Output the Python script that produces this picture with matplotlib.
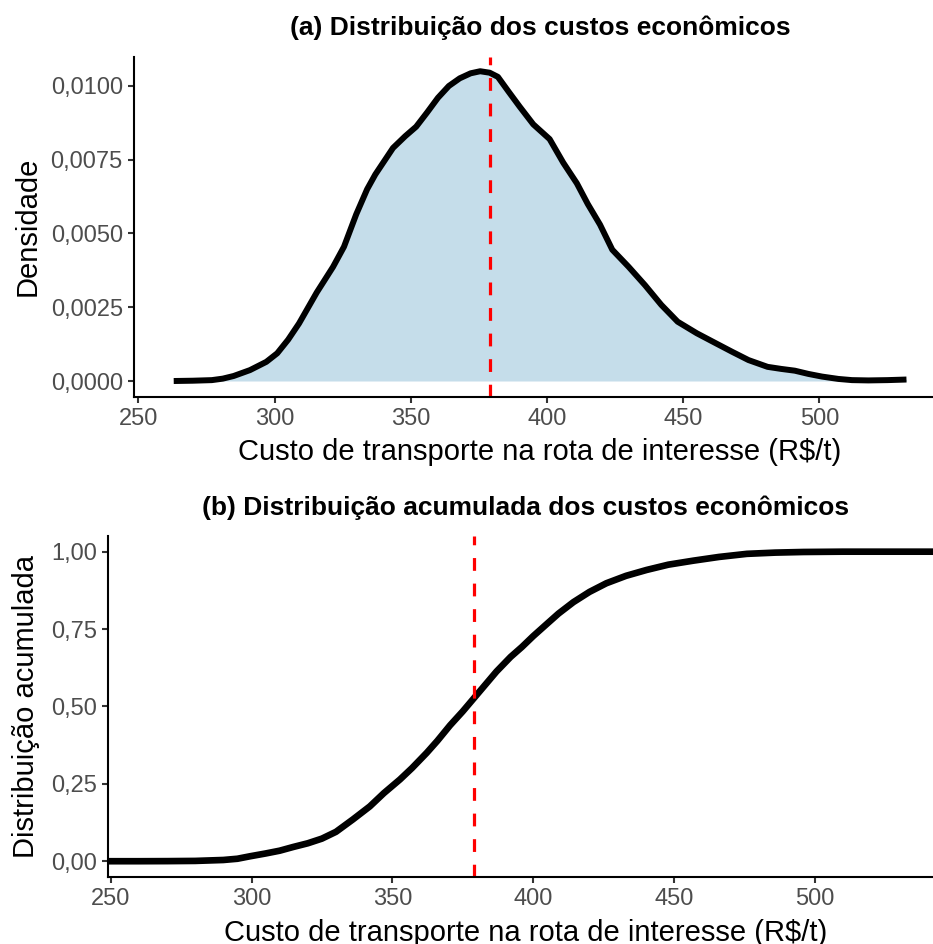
import matplotlib
matplotlib.use("Agg")
import matplotlib.pyplot as plt

plt.rcParams["font.family"] = ["Liberation Sans", "DejaVu Sans"]

# valores
dens_x = [263, 270, 277, 281, 285, 291, 297, 301, 305, 309, 315.5, 321.5, 325.5,
          330, 334, 337, 343.5, 348, 352, 356, 360, 364, 368, 372, 375.5, 379,
          382, 386, 390, 395, 401, 406, 411, 415, 419.5, 424, 430, 436, 442,
          448, 455, 462, 468, 474, 481, 486, 491, 496, 501, 507, 512, 518, 525, 532]
dens_y = [0.0, 0.00001, 0.00003, 0.00008, 0.00017, 0.00037, 0.00065, 0.00094,
          0.00140, 0.00195, 0.00300, 0.00387, 0.00455, 0.00565, 0.00650, 0.00700,
          0.00790, 0.00830, 0.00862, 0.00910, 0.00960, 0.01000, 0.01026, 0.01043,
          0.01050, 0.01045, 0.01031, 0.00980, 0.00930, 0.00870, 0.00820, 0.00740,
          0.00670, 0.00600, 0.00530, 0.00445, 0.00387, 0.00325, 0.00258, 0.00201,
          0.00162, 0.00128, 0.00099, 0.00071, 0.00048, 0.00041, 0.00035, 0.00024,
          0.00015, 0.00007, 0.00003, 0.00002, 0.00003, 0.00005]

ecdf_x = [249.2, 260, 270, 280, 290, 295, 299.5, 305, 310, 314.8, 320, 325, 330,
          336, 342, 347, 352.7, 357, 362.2, 366, 370.5, 375, 379, 383, 387, 392,
          396, 400, 404.8, 409, 414.3, 420, 426, 433, 440.3, 448, 456.9, 466,
          475.9, 486, 496, 510, 525, 545]
ecdf_y = [0.0, 0.0, 0.0003, 0.001, 0.004, 0.008, 0.016, 0.025, 0.034, 0.046, 0.058,
          0.073, 0.095, 0.135, 0.177, 0.220, 0.264, 0.301, 0.350, 0.389, 0.439,
          0.484, 0.527, 0.570, 0.613, 0.660, 0.692, 0.727, 0.766, 0.800, 0.837,
          0.870, 0.898, 0.922, 0.941, 0.958, 0.971, 0.983, 0.993, 0.997, 0.999,
          1.0, 1.0, 1.0]

custo_ref = 379  # linha vermelha tracejada

x_ticks = [250, 300, 350, 400, 450, 500]
dens_ticks = [0.0, 0.0025, 0.005, 0.0075, 0.01]
dens_labels = ["0,0000", "0,0025", "0,0050", "0,0075", "0,0100"]
ecdf_ticks = [0.0, 0.25, 0.5, 0.75, 1.0]
ecdf_labels = ["0,00", "0,25", "0,50", "0,75", "1,00"]

xlab = "Custo de transporte na rota de interesse (R$/t)"
FILL = "#C5DDEA"
TXT = "#4D4D4D"

W, H = 933, 944
fig = plt.figure(figsize=(W / 100, H / 100), dpi=100)


def estilo(ax):
    for s in ["top", "right"]:
        ax.spines[s].set_visible(False)
    for s in ["left", "bottom"]:
        ax.spines[s].set_linewidth(1.5)
        ax.spines[s].set_color("black")
    ax.tick_params(length=4.3, width=1.5, color="#333333", labelcolor=TXT,
                   labelsize=17, pad=4)
    ax.set_xticks(x_ticks)


# (a) densidade
ax1 = fig.add_axes([134.3 / W, 1 - 396.7 / H, (945.7 - 134.3) / W, 340 / H])
ax1.fill_between(dens_x, dens_y, 0, color=FILL, lw=0)
ax1.plot(dens_x, dens_y, color="black", lw=4.3, solid_capstyle="butt",
         solid_joinstyle="round")
ax1.axvline(custo_ref, color="red", lw=2.3, ls=(0, (4, 4)))
ax1.set_xlim(248.53, 546.4)
ax1.set_ylim(-0.000532, 0.010993)
estilo(ax1)
ax1.set_yticks(dens_ticks)
ax1.set_yticklabels(dens_labels)

# (b) acumulada
ax2 = fig.add_axes([108.3 / W, 1 - 876.7 / H, (941.5 - 108.3) / W, 340.5 / H])
ax2.plot(ecdf_x, ecdf_y, color="black", lw=4.8, solid_capstyle="butt",
         solid_joinstyle="round")
ax2.axvline(custo_ref, color="red", lw=2.3, ls=(0, (4, 4)))
ax2.set_xlim(249.15, 545)
ax2.set_ylim(-0.05, 1.05)
estilo(ax2)
ax2.set_yticks(ecdf_ticks)
ax2.set_yticklabels(ecdf_labels)

# titulos e rotulos
fig.text(540 / W, 1 - 35.5 / H, "(a) Distribuição dos custos econômicos",
         ha="center", va="baseline", fontsize=19, fontweight="bold")
fig.text(526 / W, 1 - 515 / H, "(b) Distribuição acumulada dos custos econômicos",
         ha="center", va="baseline", fontsize=19, fontweight="bold")
fig.text(540 / W, 1 - 460 / H, xlab, ha="center", va="baseline", fontsize=21)
fig.text(525.5 / W, 1 - 941 / H, xlab, ha="center", va="baseline", fontsize=21)
fig.text(35.7 / W, 1 - 226.7 / H, "Densidade", rotation=90, rotation_mode="anchor",
         ha="center", va="baseline", fontsize=21)
fig.text(34.5 / W, 1 - 706.5 / H, "Distribuição acumulada", rotation=90,
         rotation_mode="anchor", ha="center", va="baseline", fontsize=21)

fig.savefig("out.png", dpi=100, facecolor="white")
